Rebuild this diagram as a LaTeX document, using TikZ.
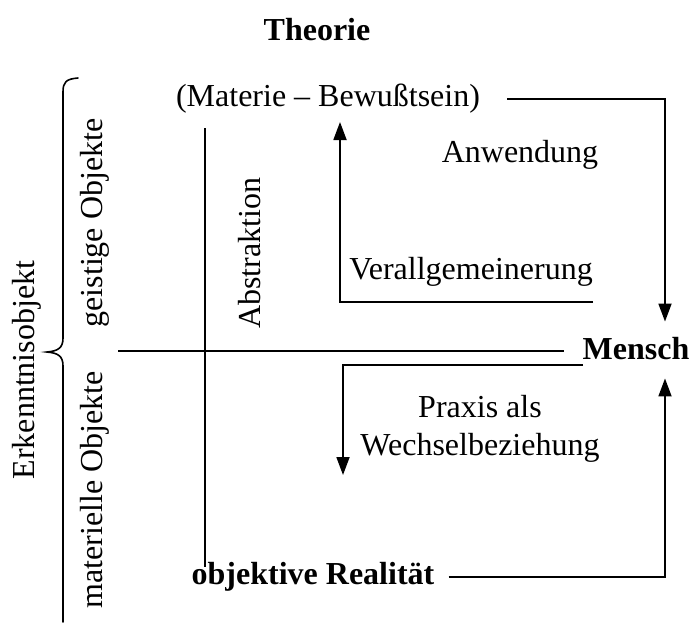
\documentclass[tikz,border=0pt]{standalone}
\usepackage{fontspec}
\setmainfont{Liberation Serif}
\usetikzlibrary{arrows.meta}
\begin{document}
\begin{tikzpicture}[x=1pt,y=-1pt,
  lbl/.style={font=\fontsize{32}{38}\selectfont, inner sep=0pt},
  blbl/.style={font=\fontsize{32}{38}\selectfont\bfseries, inner sep=0pt},
  conn/.style={line width=1.8pt},
  arr/.style={conn, -{Triangle[length=18pt,width=13pt]}},
  brace/.style={line width=1.6pt, line cap=round}]
\useasboundingbox (0,0) rectangle (691,622);

% labels
\node[blbl] (theorie) at (317,30) {Theorie};
\node[lbl] (mb) at (328,99) {(Materie – Bewußtsein)};
\node[blbl] (mensch) at (636,349) {Mensch};
\node[blbl] (real) at (313,577) {objektive Realität};
\node[lbl] (anw) at (520,155) {Anwendung};
\node[lbl] (verall) at (471,272) {Verallgemeinerung};
\node[lbl, align=center] (praxis) at (480,429) {Praxis als\\Wechselbeziehung};
\node[lbl, rotate=90] (abstr) at (250,253) {Abstraktion};
\node[lbl, rotate=90] (geist) at (95,223) {geistige Objekte};
\node[lbl, rotate=90] (mat) at (95,490) {materielle Objekte};
\node[lbl, rotate=90] (erk) at (27,370) {Erkenntnisobjekt};

% rails and corners
\coordinate (rail) at (665,0);
\coordinate (vTop) at (205,128);
\coordinate (vBot) at (205,567);
\coordinate (hLeft) at (118,351);
\coordinate (genR) at (593,302);
\coordinate (genC) at (340,302);
\coordinate (genTip) at (340,122);
\coordinate (praR) at (583,365);
\coordinate (praC) at (343,365);
\coordinate (praTip) at (343,475);

% axes
\draw[conn] (vTop) -- (vBot);
\draw[conn] (hLeft) -- ([xshift=-18pt]hLeft -| mensch.west);

% Anwendung: theory -> Mensch
\draw[arr] ([xshift=27pt]mb.east) -| ([yshift=16pt]mensch.north -| rail);
% Verallgemeinerung
\draw[arr] (genR) -- (genC) -- (genTip);
% Praxis
\draw[arr] (praR) -- (praC) -- (praTip);
% Realitaet -> Mensch
\draw[arr] ([xshift=14pt]real.east) -| ([yshift=-18pt]mensch.south -| rail);

% brace
\draw[brace] (78,78) .. controls (66,79) and (63,82) .. (63,92)
  -- (63,338) .. controls (63,348) and (58,351) .. (47,352)
  .. controls (58,353) and (63,356) .. (63,366) -- (63,622);
\end{tikzpicture}
\end{document}
